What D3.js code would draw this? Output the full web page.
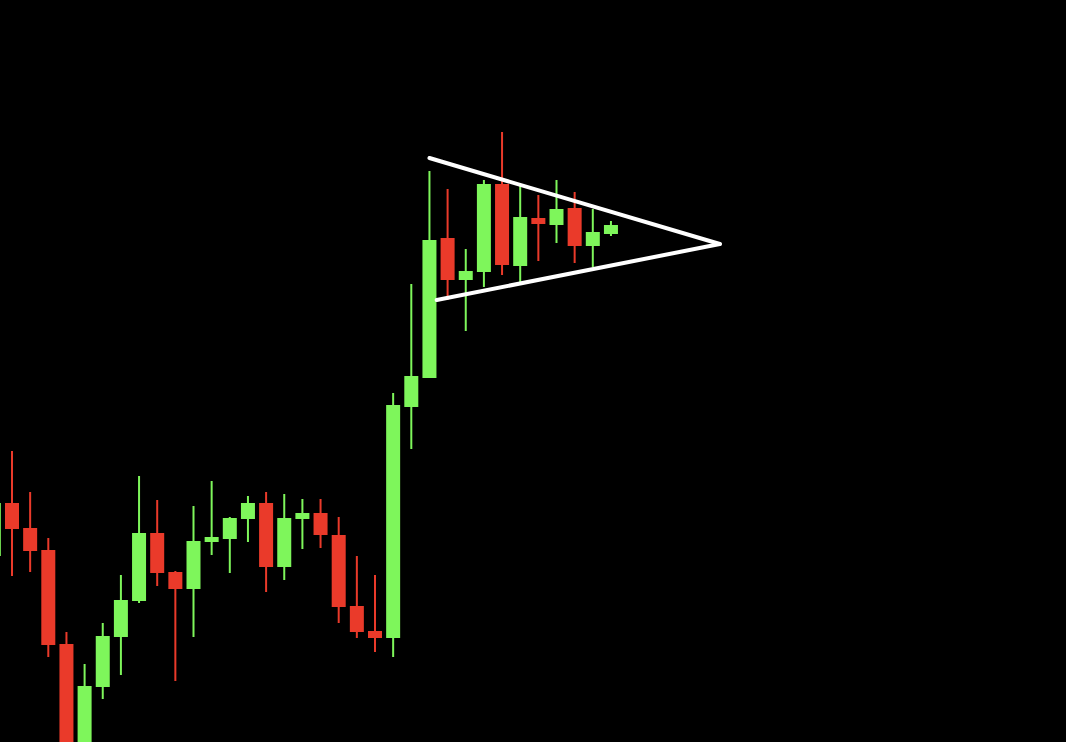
<!DOCTYPE html>
<html>
<head>
<meta charset="utf-8">
<script src="https://cdn.jsdelivr.net/npm/d3@7"></script>
<style>
  html, body { margin: 0; padding: 0; background: #000; }
  #chart { width: 1066px; height: 742px; }
</style>
</head>
<body>
<div id="chart"></div>
<script>
// candle data, one entry per session (index = position on the x axis)
var opens  = [68.6, 73.9, 71.4, 69.2, 59.8, 48.7, 55.5, 60.5, 64.1, 70.9, 67.0, 65.3, 70.0, 70.3, 72.3, 73.9, 67.5, 72.3,
              72.9, 70.7, 63.6, 61.1, 60.4, 83.5, 86.4, 100.4, 96.2, 97.0, 105.8, 97.6, 102.4, 101.7, 103.4, 99.6, 100.8];
var highs  = [74.7, 79.1, 75.0, 70.4, 61.0, 57.8, 61.9, 66.7, 76.6, 74.2, 67.1, 73.6, 76.1, 72.5, 74.6, 75.0, 74.8, 74.3,
              74.3, 72.5, 68.6, 66.7, 84.9, 95.8, 107.1, 105.3, 99.3, 106.2, 111.0, 105.8, 104.7, 106.2, 105.0, 103.3, 102.1];
var lows   = [68.2, 66.6, 67.0, 58.5, 46.7, 47.4, 54.3, 56.7, 63.9, 65.6, 56.1, 60.5, 68.7, 66.9, 70.0, 65.0, 66.2, 69.3,
              69.4, 61.9, 60.4, 59.0, 58.5, 79.3, 86.4, 94.2, 91.1, 95.5, 96.7, 96.0, 98.1, 99.9, 97.9, 97.5, 100.6];
var closes = [73.9, 71.3, 69.1, 59.7, 48.0, 55.6, 60.6, 64.2, 70.9, 66.9, 65.3, 70.1, 70.5, 72.4, 73.9, 67.5, 72.4, 72.9,
              70.7, 63.5, 61.0, 60.4, 83.7, 86.6, 100.2, 96.2, 97.1, 105.8, 97.7, 102.5, 101.8, 103.3, 99.6, 101.0, 101.7];

// pennant trend lines: [index, price]
var upperLine = [[24, 108.4], [40, 99.8]];
var lowerLine = [[24.4, 94.2], [40, 99.8]];

var width = 1066, height = 742;
var upColor = "#7ef65b", downColor = "#ea3a2a";

var data = opens.map(function(o, i) {
    return {i: i, open: o, high: highs[i], low: lows[i], close: closes[i]};
});

var x = d3.scaleLinear().domain([0, 40]).range([-6.15, 719.85]);
var y = d3.scaleLinear().domain([50, 124.2]).range([height, 0]);

var svg = d3.select("#chart")
    .append("svg")
        .attr("width", width)
        .attr("height", height)
        .style("background", "#000");

var candle = svg.selectAll("g.candle")
    .data(data)
    .enter().append("g")
        .attr("class", "candle");

// wicks
candle.append("line")
    .attr("x1", function(d) { return x(d.i); })
    .attr("x2", function(d) { return x(d.i); })
    .attr("y1", function(d) { return y(d.high); })
    .attr("y2", function(d) { return y(d.low); })
    .attr("stroke", function(d) { return d.close >= d.open ? upColor : downColor; })
    .attr("stroke-width", 2);

// bodies
var bodyW = 14;
candle.append("rect")
    .attr("x", function(d) { return x(d.i) - bodyW / 2; })
    .attr("y", function(d) { return y(Math.max(d.open, d.close)); })
    .attr("width", bodyW)
    .attr("height", function(d) { return Math.max(1, Math.abs(y(d.open) - y(d.close))); })
    .attr("fill", function(d) { return d.close >= d.open ? upColor : downColor; });

// pennant
var line = d3.line()
    .x(function(d) { return x(d[0]); })
    .y(function(d) { return y(d[1]); });

[upperLine, lowerLine].forEach(function(pts) {
    svg.append("path")
        .attr("d", line(pts))
        .attr("fill", "none")
        .attr("stroke", "#fff")
        .attr("stroke-width", 4)
        .attr("stroke-linecap", "round");
});
</script>
</body>
</html>
